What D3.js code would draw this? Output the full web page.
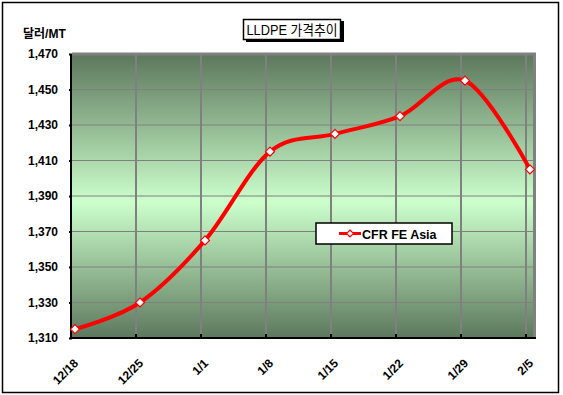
<!DOCTYPE html>
<html><head><meta charset="utf-8">
<script src="https://cdn.jsdelivr.net/npm/d3@7"></script>
<style>body{margin:0;background:#fff}svg{display:block}text{font-family:"Liberation Sans",Arial,sans-serif;font-weight:bold}</style>
</head><body><svg id="c" width="563" height="395"></svg>
<script>
const categories = ["12/18","12/25","1/1","1/8","1/15","1/22","1/29","2/5"];
const seriesName = "CFR FE Asia";
const values = [1315,1330,1365,1415,1425,1435,1455,1405];
const yTicks = [1310,1330,1350,1370,1390,1410,1430,1450,1470];
const title = "LLDPE 가격추이";
const yUnit = "달러/MT";

const svg = d3.select("#c");
const L = 72, R = 533, T = 55, B = 338;
const x = d3.scaleLinear().domain([0, categories.length - 1]).range([75, 530]);
const y = d3.scaleLinear().domain([1310, 1470]).range([B, T - 1]);

// outer border
svg.append("rect").attr("x",2.5).attr("y",2.5).attr("width",556).attr("height",390)
  .attr("fill","#fff").attr("stroke","#000").attr("stroke-width",1.5);

// gradient
const defs = svg.append("defs");
const g = defs.append("linearGradient").attr("id","bg").attr("x1",0).attr("y1",0).attr("x2",0).attr("y2",1);
g.append("stop").attr("offset","0%").attr("stop-color","#5d785d");
g.append("stop").attr("offset","52%").attr("stop-color","#ccffcc");
g.append("stop").attr("offset","100%").attr("stop-color","#5d785d");
svg.append("rect").attr("x",L).attr("y",T).attr("width",R-L).attr("height",B-T).attr("fill","url(#bg)");

// gridlines
svg.append("g").selectAll("line").data(yTicks.slice(1)).join("line")
  .attr("x1",L).attr("x2",R).attr("y1",d=>y(d)).attr("y2",d=>y(d))
  .attr("stroke","#808080").attr("stroke-width",1.2);
svg.append("g").selectAll("line").data(d3.range(1,categories.length)).join("line")
  .attr("x1",d=>x(d)-4).attr("x2",d=>x(d)-4).attr("y1",T).attr("y2",B)
  .attr("stroke","#808080").attr("stroke-width",2);

// wall borders
svg.append("line").attr("x1",L).attr("x2",536).attr("y1",54).attr("y2",54).attr("stroke","#808080").attr("stroke-width",3);
svg.append("line").attr("x1",534.5).attr("x2",534.5).attr("y1",53).attr("y2",B).attr("stroke","#808080").attr("stroke-width",3);

// axes
const yAxis = d3.axisLeft(y).tickValues(yTicks).tickFormat(d3.format(",")).tickSize(3).tickPadding(11);
const ya = svg.append("g").attr("transform",`translate(${L},0)`).call(yAxis);
ya.select(".domain").remove();
ya.selectAll("text").attr("font-size",12).attr("fill","#000").style("font-family","'Liberation Sans',Arial,sans-serif").style("font-weight","bold");
ya.selectAll("line").attr("stroke","#000").attr("stroke-width",2);
svg.append("line").attr("x1",L-1).attr("x2",L-1).attr("y1",T-1).attr("y2",B+1).attr("stroke","#000").attr("stroke-width",2);
svg.append("line").attr("x1",L-2).attr("x2",536).attr("y1",B).attr("y2",B).attr("stroke","#000").attr("stroke-width",2);
svg.append("g").selectAll("line").data(d3.range(1,categories.length)).join("line")
  .attr("x1",d=>x(d)-4).attr("x2",d=>x(d)-4).attr("y1",B-4).attr("y2",B)
  .attr("stroke","#000").attr("stroke-width",2);

// x labels
svg.append("g").selectAll("text").data(categories).join("text")
  .attr("transform",(d,i)=>`translate(${x(i)+4},${364}) rotate(-45)`)
  .attr("text-anchor","end").attr("font-size",12).attr("fill","#000").text(d=>d);

// line
const line = d3.line().x((d,i)=>x(i)).y(d=>y(d)).curve(d3.curveCardinal.tension(0));
svg.append("path").datum(values).attr("d",line).attr("fill","none").attr("stroke","#ff0000").attr("stroke-width",4);
const diamond = "M0,-4.5L4.5,0L0,4.5L-4.5,0Z";
svg.append("g").selectAll("path").data(values).join("path")
  .attr("d",diamond).attr("transform",(d,i)=>`translate(${x(i)},${y(d)})`)
  .attr("fill","#fff").attr("stroke","#ff0000").attr("stroke-width",1.2);

// title
svg.append("rect").attr("x",246).attr("y",21).attr("width",98).attr("height",21).attr("fill","#000");
svg.append("rect").attr("x",243.5).attr("y",19.5).attr("width",97).attr("height",20).attr("fill","#fff").attr("stroke","#000").attr("stroke-width",1.5);
svg.append("text").attr("x",292).attr("y",35).attr("text-anchor","middle").attr("font-size",14)
  .attr("textLength",91).attr("lengthAdjust","spacingAndGlyphs")
  .style("font-family","'Liberation Sans','Noto Sans CJK KR',sans-serif").style("font-weight","normal").attr("fill","#000").text(title);

// y unit
svg.append("text").attr("x",23).attr("y",38).attr("font-size",12)
  .style("font-family","'Liberation Sans','Noto Sans CJK KR',sans-serif").attr("fill","#000").text(yUnit);

// legend
svg.append("rect").attr("x",316).attr("y",223).attr("width",136).attr("height",21).attr("fill","#fff").attr("stroke","#000").attr("stroke-width",1.5);
svg.append("line").attr("x1",339).attr("x2",361).attr("y1",233.5).attr("y2",233.5).attr("stroke","#ff0000").attr("stroke-width",3);
svg.append("path").attr("d","M0,-3.5L3.5,0L0,3.5L-3.5,0Z").attr("transform","translate(350,233.5)").attr("fill","#fff").attr("stroke","#ff0000").attr("stroke-width",1.2);
svg.append("text").attr("x",362).attr("y",238.5).attr("font-size",12.5).attr("fill","#000").text(seriesName);
</script></body></html>
